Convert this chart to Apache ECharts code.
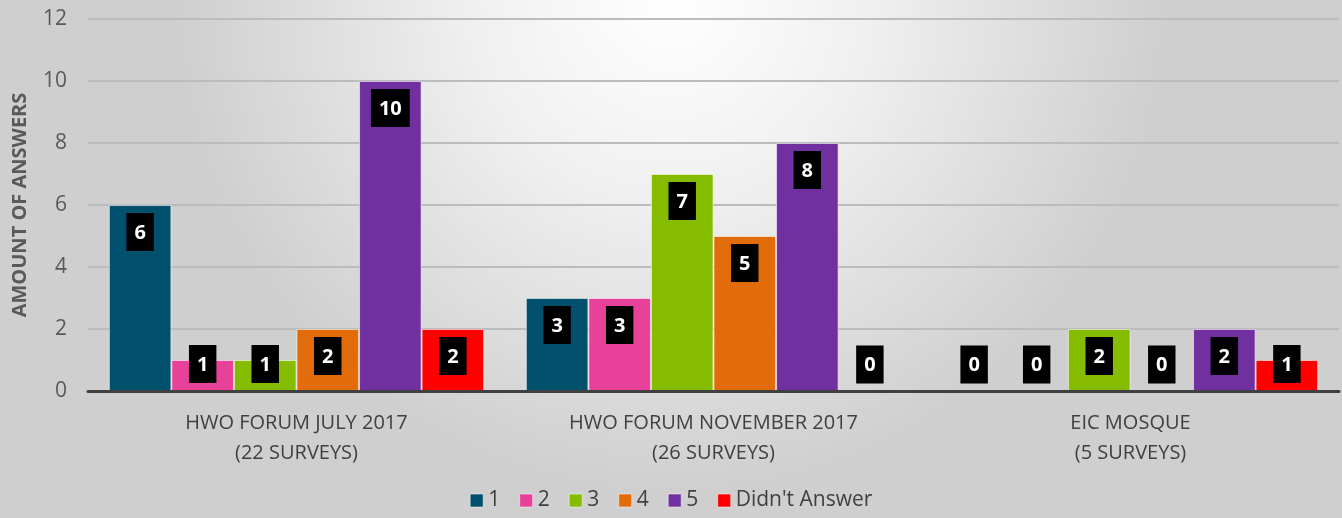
<!DOCTYPE html>
<html>
<head>
<meta charset="utf-8">
<script src="https://cdn.jsdelivr.net/npm/echarts@6/dist/echarts.min.js"></script>
<style>
  html, body { margin: 0; padding: 0; }
  #chart { width: 1342px; height: 518px; }
</style>
</head>
<body>
<div id="chart"></div>
<script>
// categories and series values
var categories = ['HWO FORUM JULY 2017\n(22 SURVEYS)', 'HWO FORUM NOVEMBER 2017\n(26 SURVEYS)', 'EIC MOSQUE\n(5 SURVEYS)'];
var seriesNames = ['1', '2', '3', '4', '5', "Didn't Answer"];
var answers1 = [6, 3, 0];
var answers2 = [1, 3, 0];
var answers3 = [1, 7, 2];
var answers4 = [2, 5, 0];
var answers5 = [10, 8, 2];
var noAnswer = [2, 0, 1];
var colors = ['#00506e', '#e8419a', '#86bc00', '#e36c0a', '#7030a0', '#ff0000'];

var chart = echarts.init(document.getElementById('chart'));

function makeSeries(name, values, color) {
  return {
    name: name,
    type: 'bar',
    barGap: 0,
    barCategoryGap: '10%',
    itemStyle: { color: color, borderColor: 'rgba(255,255,255,0.55)', borderWidth: 1 },
    data: values.map(function (v) {
      // short bars get their label at the bottom, like excel does
      return { value: v, label: { position: v < 2 ? 'insideBottom' : 'insideTop' } };
    }),
    label: {
      show: true,
      distance: 8,
      color: '#fff',
      fontWeight: 'bold',
      fontSize: 20,
      lineHeight: 20,
      fontFamily: 'Open Sans',
      backgroundColor: '#000',
      padding: [10, 8, 8, 8]
    }
  };
}

var all = [answers1, answers2, answers3, answers4, answers5, noAnswer];
var series = [];
for (var i = 0; i < all.length; i++) {
  series.push(makeSeries(seriesNames[i], all[i], colors[i]));
}

var option = {
  animation: false,
  backgroundColor: new echarts.graphic.RadialGradient(0.5, 0.0, 0.95, [
    { offset: 0, color: '#ffffff' },
    { offset: 0.4, color: '#f0f0f0' },
    { offset: 1, color: '#cfcfcf' }
  ]),
  textStyle: { fontFamily: 'Open Sans' },
  grid: { left: 88, right: 3, top: 19, bottom: 127, outerBoundsMode: 'none' },
  legend: {
    bottom: 2,
    left: 'center',
    itemWidth: 13,
    itemHeight: 13,
    itemGap: 19,
    icon: 'rect',
    itemStyle: { borderColor: 'rgba(255,255,255,0.5)', borderWidth: 1 },
    textStyle: { fontSize: 21, color: '#404040', fontFamily: 'Open Sans' },
    data: seriesNames
  },
  xAxis: {
    type: 'category',
    data: categories,
    z: 10,
    axisTick: { show: false },
    axisLine: { lineStyle: { color: '#404040', width: 3 } },
    axisLabel: { color: '#404040', fontSize: 20, lineHeight: 30, margin: 17 }
  },
  yAxis: {
    type: 'value',
    min: 0,
    max: 12,
    interval: 2,
    name: 'AMOUNT OF ANSWERS',
    nameLocation: 'middle',
    nameGap: 58,
    nameTextStyle: { fontWeight: 'bold', fontSize: 20, color: '#595959' },
    axisLabel: { color: '#595959', fontSize: 21, margin: 21 },
    splitLine: { lineStyle: { color: '#bcbcbc', width: 2 } }
  },
  series: series
};

chart.setOption(option);
</script>
</body>
</html>
